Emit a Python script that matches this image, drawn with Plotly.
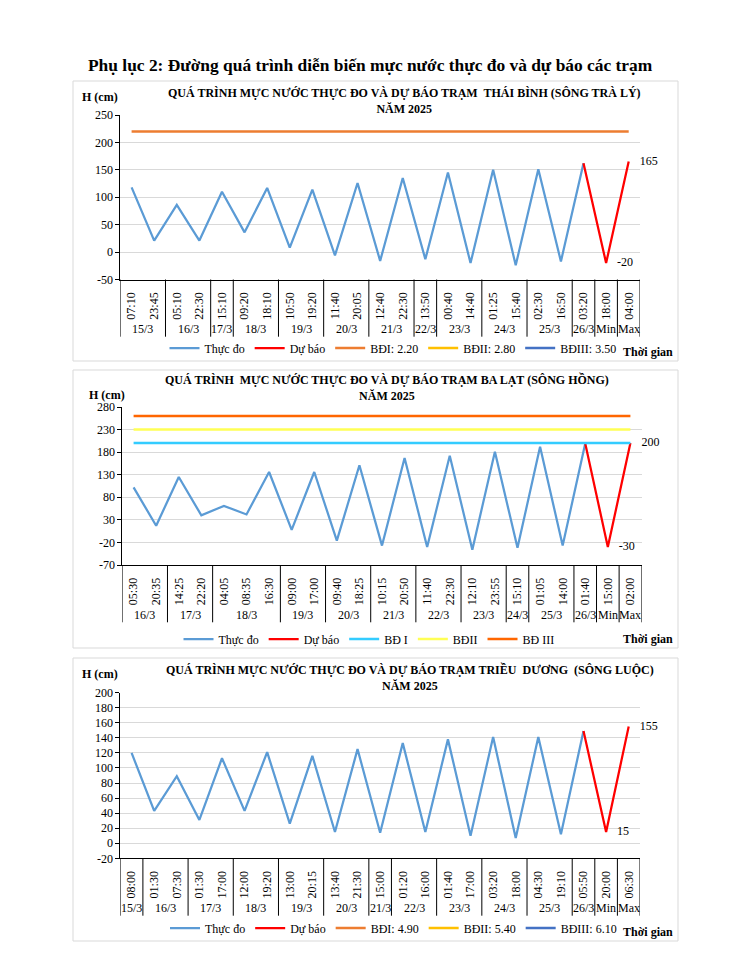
import plotly.graph_objects as go

# ---------------- data ----------------
# Chart 1: Thái Bình (sông Trà Lý)
tb_times = ["07:10", "23:45", "05:10", "22:30", "15:10", "09:20", "18:10", "10:50", "19:20",
            "11:40", "20:05", "12:40", "22:30", "13:50", "00:40", "14:40", "01:25", "15:40",
            "02:30", "16:50", "03:20", "18:00", "04:00"]
tb_days = ["15/3", "16/3", "17/3", "18/3", "19/3", "20/3", "21/3", "22/3", "23/3", "24/3",
           "25/3", "26/3", "Min", "Max"]
tb_day_counts = [2, 2, 1, 2, 2, 2, 2, 1, 2, 2, 2, 1, 1, 1]
tb_observed = [118, 21, 86, 21, 110, 36, 117, 8, 114, -6, 126, -16, 135, -13, 145, -20,
               150, -24, 151, -17, 162]
tb_forecast = [162, -20, 165]
tb_alarm_names = ["BĐI: 2.20", "BĐII: 2.80", "BĐIII: 3.50"]
tb_alarm_values = [220, 280, 350]
tb_yticks = [-50, 0, 50, 100, 150, 200, 250]

# Chart 2: Ba Lạt (sông Hồng)
bl_times = ["05:30", "20:35", "14:25", "22:20", "04:05", "08:35", "16:30", "09:00", "17:00",
            "09:40", "18:25", "10:15", "20:50", "11:40", "22:30", "12:10", "23:55", "15:10",
            "01:05", "14:00", "01:40", "15:00", "02:00"]
bl_days = ["16/3", "17/3", "18/3", "19/3", "20/3", "21/3", "22/3", "23/3", "24/3", "25/3",
           "26/3", "Min", "Max"]
bl_day_counts = [2, 2, 3, 2, 2, 2, 2, 2, 1, 2, 1, 1, 1]
bl_observed = [102, 17, 125, 40, 61, 42, 136, 8, 136, -16, 151, -27, 167, -30, 172, -36,
               181, -32, 192, -27, 199]
bl_forecast = [199, -30, 200]
bl_alarm_names = ["BĐ I", "BĐII", "BĐ III"]
bl_alarm_values = [200, 230, 260]
bl_yticks = [-70, -20, 30, 80, 130, 180, 230, 280]

# Chart 3: Triều Dương (sông Luộc)
td_times = ["08:00", "01:30", "07:30", "01:30", "17:00", "12:00", "19:20", "13:00", "20:15",
            "13:40", "21:30", "15:00", "01:20", "16:00", "01:40", "17:00", "03:20", "18:00",
            "04:30", "19:10", "05:50", "20:00", "06:30"]
td_days = ["15/3", "16/3", "17/3", "18/3", "19/3", "20/3", "21/3", "22/3", "23/3", "24/3",
           "25/3", "26/3", "Min", "Max"]
td_day_counts = [1, 2, 2, 2, 2, 2, 1, 2, 2, 2, 2, 1, 1, 1]
td_observed = [120, 43, 89, 31, 113, 43, 121, 26, 116, 15, 125, 14, 133, 15, 138, 10,
               141, 7, 141, 12, 149]
td_forecast = [149, 15, 155]
td_alarm_names = ["BĐI: 4.90", "BĐII: 5.40", "BĐIII: 6.10"]
td_alarm_values = [490, 540, 610]
td_yticks = [-20, 0, 20, 40, 60, 80, 100, 120, 140, 160, 180, 200]

# ---------------- helpers ----------------
W, H = 740, 957
def px(x):
    return x / W
def py(y):
    return 1 - y / H

SERIF = "Liberation Serif, Times New Roman, serif"
GRID = "#D9D9D9"
BLUE = "#5B9BD5"
RED = "#FF0000"

charts = [
    dict(sfx="", leg="legend", times=tb_times, days=tb_days, counts=tb_day_counts,
         obs=tb_observed, fc=tb_forecast, an=tb_alarm_names, av=tb_alarm_values,
         ac=["#ED7D31", "#FFC000", "#4472C4"], yt=tb_yticks,
         title1="QUÁ TRÌNH MỰC NƯỚC THỰC ĐO VÀ DỰ BÁO TRẠM  THÁI BÌNH (SÔNG TRÀ LÝ)",
         panel=(73, 81, 678, 361), plot=(120.3, 115, 640, 279.5), sep=336.7, datey=329.3,
         ty=101, tx=404, hx=100, hy=96.7, lx=393, ly=348, gy=352),
    dict(sfx="2", leg="legend2", times=bl_times, days=bl_days, counts=bl_day_counts,
         obs=bl_observed, fc=bl_forecast, an=bl_alarm_names, av=bl_alarm_values,
         ac=["#33CCFF", "#FFFF55", "#FF6600"], yt=bl_yticks,
         title1="QUÁ TRÌNH  MỰC NƯỚC THỰC ĐO VÀ DỰ BÁO TRẠM BA LẠT (SÔNG HỒNG)",
         panel=(73, 370, 678, 648), plot=(122.3, 407, 641.7, 565), sep=622.3, datey=615,
         ty=387, tx=387, hx=107, hy=395, lx=369, ly=639, gy=639),
    dict(sfx="3", leg="legend3", times=td_times, days=td_days, counts=td_day_counts,
         obs=td_observed, fc=td_forecast, an=td_alarm_names, av=td_alarm_values,
         ac=["#ED7D31", "#FFC000", "#4472C4"], yt=td_yticks,
         title1="QUÁ TRÌNH MỰC NƯỚC THỰC ĐO VÀ DỰ BÁO TRẠM TRIỀU  DƯƠNG  (SÔNG LUỘC)",
         panel=(73, 658, 678, 941), plot=(120.3, 692.7, 640, 858.3), sep=915.7, datey=908.3,
         ty=677.3, tx=410, hx=100, hy=674, lx=393.5, ly=928, gy=932),
]

fig = go.Figure()
shapes = []
annotations = []
layout = dict(
    width=W, height=H, margin=dict(l=0, r=0, t=0, b=0, autoexpand=False),
    paper_bgcolor="white", plot_bgcolor="white",
    font=dict(family=SERIF, size=12, color="black"),
    showlegend=True,
)

annotations.append(dict(
    text="<b>Phụ lục 2: Đường quá trình diễn biến mực nước thực đo và dự báo các trạm</b>",
    x=px(370), y=py(65), xref="paper", yref="paper", showarrow=False,
    xanchor="center", yanchor="middle", font=dict(family=SERIF, size=17.4, color="black")))

for c in charts:
    xa = "x" + c["sfx"]
    ya = "y" + c["sfx"]
    n = len(c["times"])
    nobs = len(c["obs"])
    xs = list(range(n))

    fig.add_trace(go.Scatter(
        x=list(range(nobs)), y=c["obs"], mode="lines", name="Thực đo",
        line=dict(color=BLUE, width=2.25), xaxis=xa, yaxis=ya, legend=c["leg"]))
    fig.add_trace(go.Scatter(
        x=list(range(nobs - 1, nobs - 1 + len(c["fc"]))), y=c["fc"], mode="lines+markers+text",
        name="Dự báo", text=[""] + [str(v) for v in c["fc"][1:]],
        textposition="middle right", textfont=dict(family=SERIF, size=12, color="black"),
        marker=dict(size=16, color="rgba(0,0,0,0)"),
        cliponaxis=False,
        line=dict(color=RED, width=2.25), xaxis=xa, yaxis=ya, legend=c["leg"]))
    for name, val, col in zip(c["an"], c["av"], c["ac"]):
        fig.add_trace(go.Scatter(
            x=xs, y=[val] * n, mode="lines", name=name,
            line=dict(color=col, width=2.5), xaxis=xa, yaxis=ya, legend=c["leg"]))

    x0, y0, x1, y1 = c["plot"]
    layout["xaxis" + c["sfx"]] = dict(
        domain=[px(x0), px(x1)], anchor=ya, range=[-0.5, n - 0.5],
        tickmode="array", tickvals=xs, ticktext=c["times"], tickangle=-90,
        ticks="", ticklabelstandoff=7, showgrid=False, zeroline=False,
        showline=True, linecolor="black", linewidth=1,
        tickfont=dict(family=SERIF, size=12, color="black"), fixedrange=True)
    layout["yaxis" + c["sfx"]] = dict(
        domain=[py(y1), py(y0)], anchor=xa, range=[c["yt"][0], c["yt"][-1]],
        tickmode="array", tickvals=c["yt"], ticktext=[str(v) for v in c["yt"]],
        ticks="outside", ticklen=4,
        tickcolor="black", showgrid=True, gridcolor=GRID, gridwidth=1,
        zeroline=False, showline=True, linecolor="black", linewidth=1,
        tickfont=dict(family=SERIF, size=12, color="black"), fixedrange=True)

    layout[c["leg"]] = dict(
        orientation="h", x=px(c["lx"]), y=py(c["ly"]), xanchor="center", yanchor="middle",
        xref="paper", yref="paper", font=dict(family=SERIF, size=12, color="black"),
        bgcolor="rgba(0,0,0,0)", itemwidth=30, traceorder="normal")

    # panel border
    pl, pt, pr, pb = c["panel"]
    shapes.append(dict(type="rect", xref="paper", yref="paper",
                       x0=px(pl), x1=px(pr), y0=py(pb), y1=py(pt),
                       line=dict(color=GRID, width=1), layer="below"))

    # day group separators and labels
    pos = -0.5
    shapes.append(dict(type="line", xref=xa, yref="paper", x0=pos, x1=pos,
                       y0=py(c["sep"]), y1=py(y1), line=dict(color="black", width=1)))
    for day, cnt in zip(c["days"], c["counts"]):
        mid = pos + cnt / 2
        pos += cnt
        shapes.append(dict(type="line", xref=xa, yref="paper", x0=pos, x1=pos,
                           y0=py(c["sep"]), y1=py(y1), line=dict(color="black", width=1)))
        annotations.append(dict(text=day, x=mid, y=py(c["datey"]), xref=xa, yref="paper",
                                showarrow=False, xanchor="center", yanchor="middle",
                                font=dict(family=SERIF, size=12, color="black")))

    # titles (two lines)
    annotations.append(dict(text="<b>" + c["title1"] + "<br>NĂM 2025</b>",
                            x=px(c["tx"]), y=py(c["ty"]),
                            xref="paper", yref="paper", showarrow=False,
                            xanchor="center", yanchor="middle", align="center",
                            font=dict(family=SERIF, size=12, color="black")))
    annotations.append(dict(text="<b>H (cm)</b>", x=px(c["hx"]), y=py(c["hy"]),
                            xref="paper", yref="paper", showarrow=False,
                            xanchor="center", yanchor="middle",
                            font=dict(family=SERIF, size=12, color="black")))
    annotations.append(dict(text="<b>Thời gian</b>", x=px(648), y=py(c["gy"]),
                            xref="paper", yref="paper", showarrow=False,
                            xanchor="center", yanchor="middle",
                            font=dict(family=SERIF, size=12, color="black")))

layout["shapes"] = shapes
layout["annotations"] = annotations
fig.update_layout(**layout)

fig.write_html("out.html", config={"displayModeBar": False},
               post_script="document.body.style.margin='0';document.body.style.overflow='hidden';")
